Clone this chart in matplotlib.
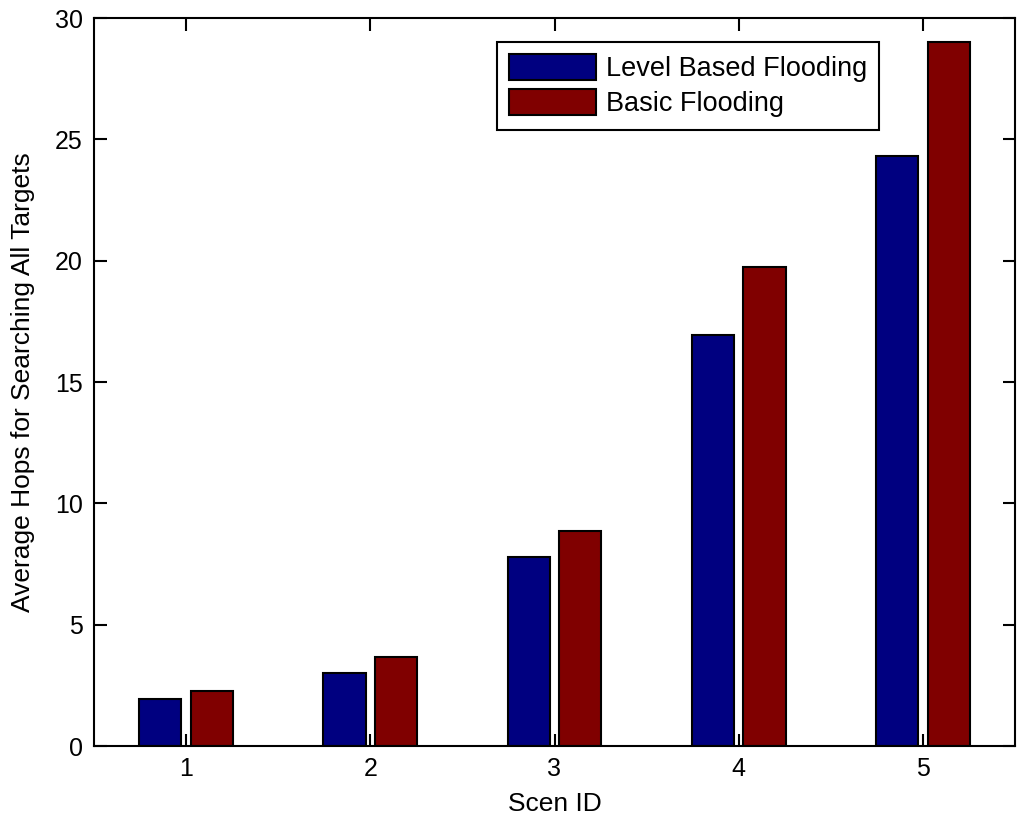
import numpy as np
import matplotlib
matplotlib.use("Agg")
import matplotlib.pyplot as plt

plt.rcParams['font.family'] = ['Liberation Sans', 'DejaVu Sans']

scen_ids = [1, 2, 3, 4, 5]
level_based = [1.93, 3.0, 7.8, 16.93, 24.3]
basic = [2.28, 3.67, 8.85, 19.74, 29.02]

fig = plt.figure(figsize=(10.24, 8.23), dpi=100)
ax = fig.add_axes([94/1024, 1-746/823, (1015-94)/1024, (746-18)/823])

x = np.array(scen_ids)
w = 0.23
ax.bar(x - 0.14, level_based, w, color='#000080', edgecolor='black', linewidth=1.5,
       label='Level Based Flooding')
ax.bar(x + 0.14, basic, w, color='#800000', edgecolor='black', linewidth=1.5,
       label='Basic Flooding')

ax.set_xlim(0.5, 5.5)
ax.set_ylim(0, 30)
ax.set_xticks(scen_ids)
ax.set_yticks(range(0, 31, 5))
ax.tick_params(direction='in', length=9, width=1.5, labelsize=18, pad=8,
               top=True, right=True)
for s in ax.spines.values():
    s.set_linewidth(1.5)

ax.set_xlabel('Scen ID', fontsize=19, labelpad=8)
ax.set_ylabel('Average Hops for Searching All Targets', fontsize=19, labelpad=14)

leg = ax.legend(loc='upper right', bbox_to_anchor=(879/1024, 1-42/823),
                bbox_transform=fig.transFigure, fontsize=19.5, fancybox=False,
                framealpha=1, edgecolor='black', handlelength=3.2, handleheight=1.1,
                borderpad=0.45, labelspacing=0.25, handletextpad=0.35, borderaxespad=0)
leg.get_frame().set_linewidth(1.5)

plt.savefig('out.png', dpi=100)
